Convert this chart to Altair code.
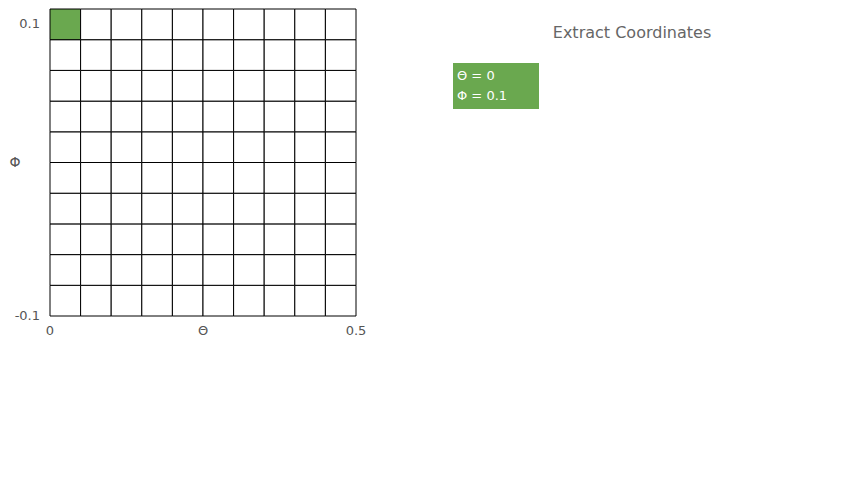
import altair as alt
import pandas as pd

# grid data
n_cols = 10
n_rows = 10
selected_col = 0
selected_row = 9  # top row
green = "#6aa84f"

# axis label data
x_label_pos = [0, 5, 10]
x_label_text = ["0", "Θ", "0.5"]
y_label_pos = [9.5, 0]
y_label_text = ["0.1", "-0.1"]
y_title_pos = [5]
y_title_text = ["Φ"]

panel_title = ["Extract Coordinates"]
theta_value = 0
phi_value = 0.1
info_lines = [f"Θ = {theta_value}", f"Φ = {phi_value}"]

cells = pd.DataFrame(
    [{"c": c, "c2": c + 1, "r": r, "r2": r + 1,
      "sel": (c == selected_col and r == selected_row)}
     for c in range(n_cols) for r in range(n_rows)]
)

xs = alt.Scale(domain=[0, n_cols], nice=False, zero=False)
ys = alt.Scale(domain=[0, n_rows], nice=False, zero=False)

grid = alt.Chart(cells).mark_rect(stroke="black", strokeWidth=1).encode(
    x=alt.X("c:Q", scale=xs, axis=None),
    x2="c2:Q",
    y=alt.Y("r:Q", scale=ys, axis=None),
    y2="r2:Q",
    fill=alt.condition("datum.sel", alt.value(green), alt.value("white")),
)

font = "DejaVu Sans"
tcol = "#555555"

xlab = alt.Chart(pd.DataFrame({"p": x_label_pos, "t": x_label_text})).mark_text(
    font=font, fontSize=13, color=tcol, align="center", baseline="middle"
).encode(x=alt.X("p:Q", scale=xs), y=alt.value(322), text="t:N")

ylab = alt.Chart(pd.DataFrame({"p": y_label_pos, "t": y_label_text})).mark_text(
    font=font, fontSize=13, color=tcol, align="right", baseline="middle"
).encode(y=alt.Y("p:Q", scale=ys), x=alt.value(-10), text="t:N")

ytitle = alt.Chart(pd.DataFrame({"p": y_title_pos, "t": y_title_text})).mark_text(
    font=font, fontSize=14, color=tcol, align="center", baseline="middle"
).encode(y=alt.Y("p:Q", scale=ys), x=alt.value(-35), text="t:N")

one = pd.DataFrame({"t": panel_title})
ptitle = alt.Chart(one).mark_text(
    font=font, fontSize=16, color="#666666", align="center", baseline="middle"
).encode(x=alt.value(582), y=alt.value(24), text="t:N")

box = alt.Chart(one).mark_rect(color=green).encode(
    x=alt.value(403), x2=alt.value(489), y=alt.value(54), y2=alt.value(100)
)

info = alt.Chart(pd.DataFrame({"t": info_lines, "yy": [67, 87]})).mark_text(
    font=font, fontSize=13, color="white", align="left", baseline="middle"
).encode(x=alt.value(407), y=alt.Y("yy:Q", scale=None), text="t:N")

chart = alt.layer(grid, xlab, ylab, ytitle, ptitle, box, info).properties(
    width=306,
    height=307,
    autosize=alt.AutoSizeParams(type="none"),
    padding={"left": 42, "top": 1, "right": 480, "bottom": 150},
).configure_view(stroke=None)

chart.save("out.html", embed_options={"renderer": "svg", "actions": False})
